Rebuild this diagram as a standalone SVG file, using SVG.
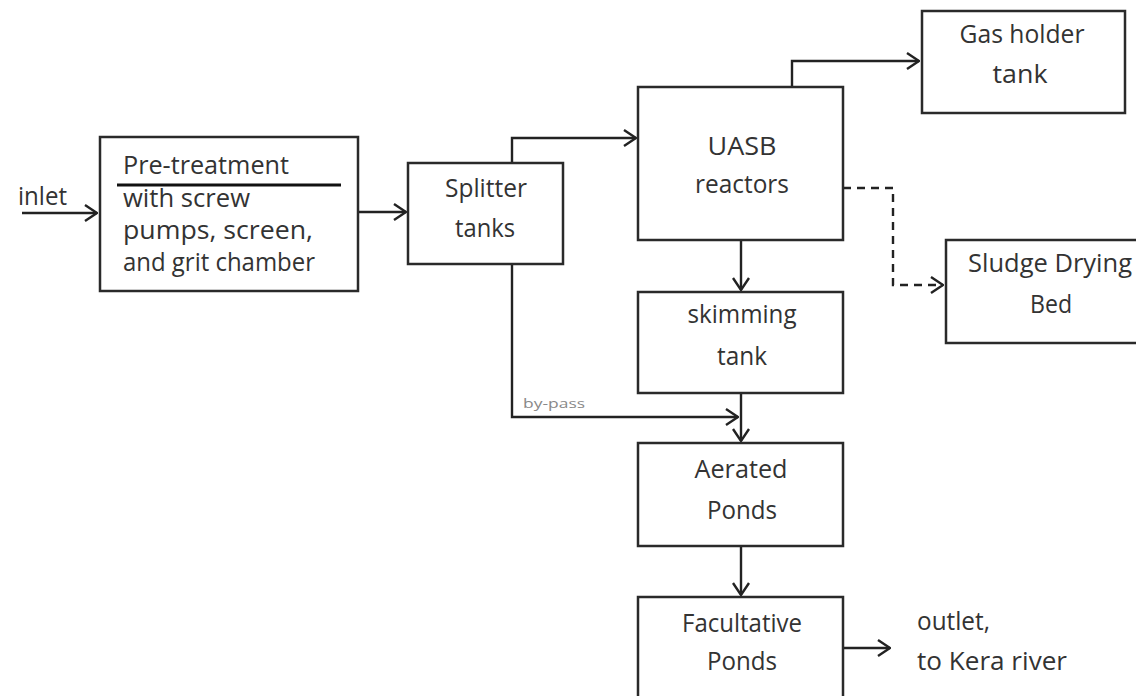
<svg xmlns="http://www.w3.org/2000/svg" width="1136" height="696" viewBox="0 0 1136 696">
<style>
.box{fill:#fff;stroke:#2a2a2a;stroke-width:2.5}
.t{font-family:"Open Sans","Liberation Sans",sans-serif;font-size:25px;fill:#333}
.c{text-anchor:middle}
.ln{fill:none;stroke:#222;stroke-width:2.4}
.dash{stroke-dasharray:8 6}
.small{font-family:"Open Sans","Liberation Sans",sans-serif;font-size:13px;fill:#888}
</style>
<defs>
<marker id="arr" viewBox="0 0 14 18" refX="13" refY="9" markerWidth="14" markerHeight="18" markerUnits="userSpaceOnUse" orient="auto">
<path d="M1,1 L13,9 L1,17" fill="none" stroke="#222" stroke-width="2.4"/>
</marker>
</defs>
<rect width="1136" height="696" fill="#fff"/>
<g id="connectors">
<path class="ln" d="M22,213 H97" marker-end="url(#arr)"/>
<path class="ln" d="M358,212 H406" marker-end="url(#arr)"/>
<path class="ln" d="M512,163 V138 H636" marker-end="url(#arr)"/>
<path class="ln" d="M792,87 V61 H919" marker-end="url(#arr)"/>
<path class="ln dash" d="M843,188 H893 V285 H943" marker-end="url(#arr)"/>
<path class="ln" d="M741,240 V290" marker-end="url(#arr)"/>
<path class="ln" d="M741,393 V441" marker-end="url(#arr)"/>
<path class="ln" d="M512,264 V417 H738" marker-end="url(#arr)"/>
<path class="ln" d="M741,546 V595" marker-end="url(#arr)"/>
<path class="ln" d="M843,648 H890" marker-end="url(#arr)"/>
<text class="small" x="523" y="408" textLength="62" lengthAdjust="spacingAndGlyphs">by-pass</text>
</g>
<g id="inlet">
<text class="t" x="18" y="205" textLength="49" lengthAdjust="spacingAndGlyphs">inlet</text>
</g>
<g id="pretreatment">
<rect class="box" x="100" y="137" width="258" height="154"/>
<text class="t" x="123" y="174" textLength="166" lengthAdjust="spacingAndGlyphs">Pre-treatment</text>
<path d="M117,185 H341" stroke="#111" stroke-width="3"/>
<text class="t" x="123" y="207" textLength="127" lengthAdjust="spacingAndGlyphs">with screw</text>
<text class="t" x="123" y="239" textLength="190" lengthAdjust="spacingAndGlyphs">pumps, screen,</text>
<text class="t" x="123" y="271" textLength="192" lengthAdjust="spacingAndGlyphs">and grit chamber</text>
</g>
<g id="splitter">
<rect class="box" x="408" y="163" width="155" height="101"/>
<text class="t c" x="486" y="197" textLength="82" lengthAdjust="spacingAndGlyphs">Splitter</text>
<text class="t c" x="485" y="237" textLength="60" lengthAdjust="spacingAndGlyphs">tanks</text>
</g>
<g id="uasb">
<rect class="box" x="638" y="87" width="205" height="153"/>
<text class="t c" x="742" y="155" textLength="69" lengthAdjust="spacingAndGlyphs">UASB</text>
<text class="t c" x="742" y="193" textLength="94" lengthAdjust="spacingAndGlyphs">reactors</text>
</g>
<g id="gasholder">
<rect class="box" x="922" y="11" width="203" height="102"/>
<text class="t c" x="1022" y="43" textLength="125" lengthAdjust="spacingAndGlyphs">Gas holder</text>
<text class="t c" x="1020" y="83" textLength="55" lengthAdjust="spacingAndGlyphs">tank</text>
</g>
<g id="sludge">
<rect class="box" x="946" y="240" width="204" height="103"/>
<text class="t c" x="1050" y="272" textLength="164" lengthAdjust="spacingAndGlyphs">Sludge Drying</text>
<text class="t c" x="1051" y="313" textLength="42" lengthAdjust="spacingAndGlyphs">Bed</text>
</g>
<g id="skimming">
<rect class="box" x="638" y="292" width="205" height="101"/>
<text class="t c" x="742" y="323" textLength="109" lengthAdjust="spacingAndGlyphs">skimming</text>
<text class="t c" x="742" y="365" textLength="50" lengthAdjust="spacingAndGlyphs">tank</text>
</g>
<g id="aerated">
<rect class="box" x="638" y="443" width="205" height="103"/>
<text class="t c" x="741" y="478" textLength="93" lengthAdjust="spacingAndGlyphs">Aerated</text>
<text class="t c" x="742" y="519" textLength="70" lengthAdjust="spacingAndGlyphs">Ponds</text>
</g>
<g id="facultative">
<rect class="box" x="638" y="597" width="205" height="130"/>
<text class="t c" x="742" y="632" textLength="120" lengthAdjust="spacingAndGlyphs">Facultative</text>
<text class="t c" x="742" y="670" textLength="70" lengthAdjust="spacingAndGlyphs">Ponds</text>
</g>
<g id="outlet">
<text class="t" x="917" y="630" textLength="73" lengthAdjust="spacingAndGlyphs">outlet,</text>
<text class="t" x="917" y="670" textLength="150" lengthAdjust="spacingAndGlyphs">to Kera river</text>
</g>
</svg>
